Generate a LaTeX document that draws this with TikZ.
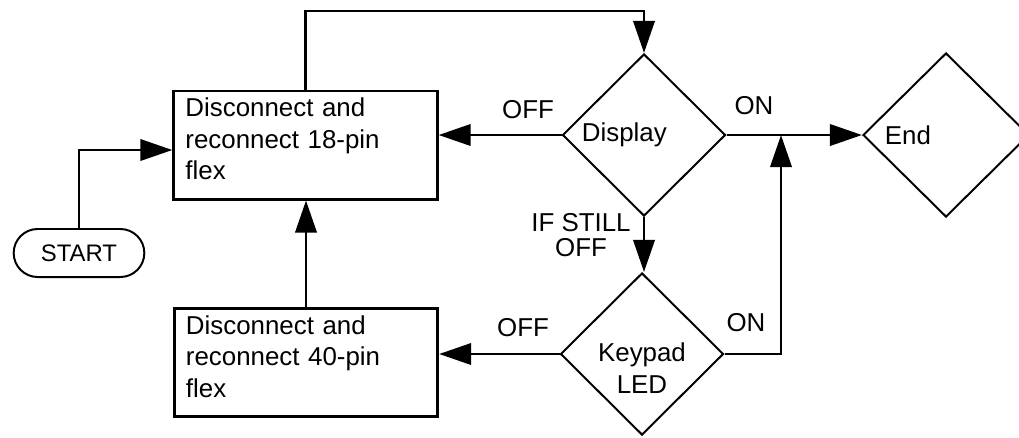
\documentclass[tikz,border=0pt]{standalone}
\usepackage{fontspec}
\setmainfont{Liberation Sans}
\usetikzlibrary{arrows.meta,shapes.geometric,shapes.misc}

\begin{document}
\begin{tikzpicture}[x=0.025cm,y=-0.025cm,
  font=\fontsize{18.4}{22.4}\selectfont,
  flexbox/.style={draw,line width=2.1pt,text width=6cm,align=left,inner xsep=0.29cm,inner ysep=2pt,
    minimum height=2.7cm,text depth=1.875cm},
  choice/.style={draw,diamond,line width=1.4pt,inner sep=0pt,minimum width=4.075cm,minimum height=4.05cm},
  arr/.style={line width=2.1pt,-{Triangle[length=0.8cm,width=0.53cm]}}]

\useasboundingbox (0,0) rectangle (1019,437);

% boxes and decisions
\node [draw,rounded rectangle,line width=1.4pt,minimum width=3.5cm,minimum height=1.2cm,
  font=\fontsize{17}{20}\selectfont] (start) at (79,253) {START};

\node [flexbox] (box18) at (305.5,145) {Disconnect and\\reconnect 18-pin\\flex};
\node [flexbox] (box40) at (306,362.5) {Disconnect and\\reconnect 40-pin\\flex};

\node [choice,label={[xshift=-0.49cm]center:Display}] (display) at (644,135) {};
\node [choice,label={[yshift=-0.35cm,align=center]center:Keypad\\LED}] (keypad) at (642,354) {};
\node [choice,minimum width=4.15cm,minimum height=4.1cm,label={[xshift=-0.95cm]center:End}] (end) at (946,135) {};

\coordinate (loop) at (0,11);
\coordinate (join) at (781,135);

% connectors
\draw [arr] (start.north) |- ([yshift=-0.125cm]box18.west);
\draw [arr] (box18.north) -- (box18.north |- loop) -| (display.north);
\draw [arr] (display.west) -- (display.west -| box18.east);
\draw [arr] (display.east) -- (end.west);
\draw [arr] (display.south) -- (display.south |- keypad.north);
\draw [arr] (keypad.west) -- (keypad.west -| box40.east);
\draw [arr] (keypad.east) -| (join);
\draw [arr] (box40.north) -- (box40.north |- box18.south);

% branch labels
\node (offa) at (528,110) {OFF};
\node (ona) at (754,106) {ON};
\node [align=center,font=\fontsize{18.4}{17.5}\selectfont] (still) at (581,235) {IF STILL\\OFF};
\node (offb) at (523,327.5) {OFF};
\node (onb) at (746,322.5) {ON};

\end{tikzpicture}
\end{document}
